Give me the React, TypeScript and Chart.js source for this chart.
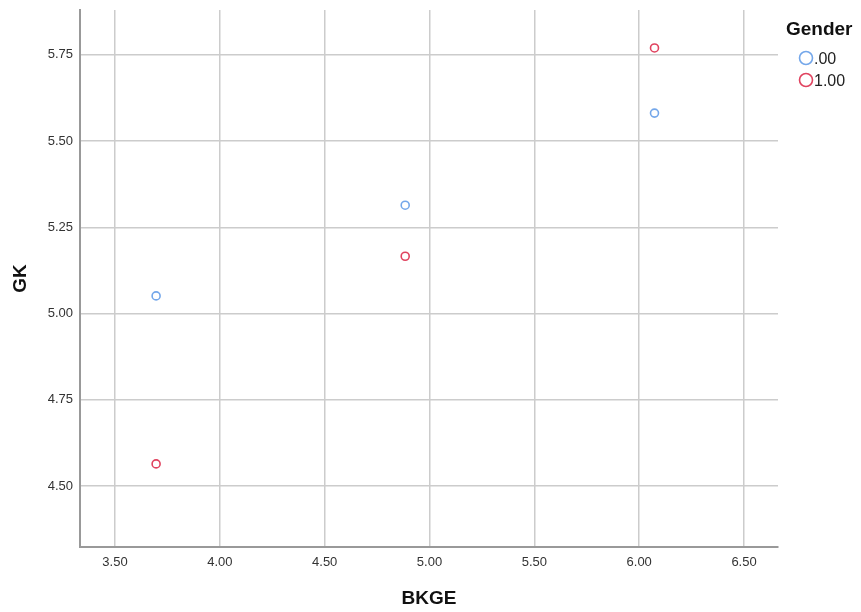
import React, { useEffect, useRef } from "react";
import { Chart, registerables } from "chart.js";

Chart.register(...registerables);

const seriesNames = [".00", "1.00"];
const legendTitle = "Gender";
const xTitle = "BKGE";
const yTitle = "GK";
const bkge00 = [3.696, 4.884, 6.073];
const gk00 = [5.051, 5.314, 5.581];
const bkge10 = [3.696, 4.884, 6.073];
const gk10 = [4.564, 5.166, 5.770];
const colors = ["#74a7ea", "#e0435f"];

const FONT = "'Liberation Sans', Arial, sans-serif";

const legendPlugin = {
  id: "customLegend",
  afterDraw(chart: any) {
    const ctx = chart.ctx;
    ctx.save();
    ctx.fillStyle = "#111";
    ctx.font = `bold 19px ${FONT}`;
    ctx.textBaseline = "middle";
    ctx.textAlign = "left";
    ctx.fillText(legendTitle, 786, 30);
    ctx.font = `16px ${FONT}`;
    seriesNames.forEach((name, i) => {
      const y = 58 + i * 22;
      ctx.beginPath();
      ctx.strokeStyle = colors[i];
      ctx.lineWidth = 1.6;
      ctx.arc(806, y, 6.5, 0, Math.PI * 2);
      ctx.stroke();
      ctx.fillStyle = "#222";
      ctx.fillText(name, 814, y + 2);
    });
    ctx.restore();
  },
};

export default function App() {
  const ref = useRef<HTMLCanvasElement>(null);
  useEffect(() => {
    if (!ref.current) return;
    const chart = new Chart(ref.current, {
      type: "scatter",
      data: {
        datasets: [
          {
            label: seriesNames[0],
            data: bkge00.map((x, i) => ({ x, y: gk00[i] })),
            borderColor: colors[0],
            backgroundColor: "rgba(0,0,0,0)",
            pointRadius: 4,
            pointBorderWidth: 1.6,
          },
          {
            label: seriesNames[1],
            data: bkge10.map((x, i) => ({ x, y: gk10[i] })),
            borderColor: colors[1],
            backgroundColor: "rgba(0,0,0,0)",
            pointRadius: 4,
            pointBorderWidth: 1.6,
          },
        ],
      },
      options: {
        animation: false,
        responsive: false,
        layout: { padding: { top: 10, right: 83, left: 0, bottom: 0 } },
        plugins: { legend: { display: false }, tooltip: { enabled: false } },
        scales: {
          x: {
            type: "linear",
            min: 3.333,
            max: 6.662,
            afterFit: (s: any) => {
              s.height = 65;
              s.paddingLeft = 0;
              s.paddingRight = 0;
            },
            ticks: {
              stepSize: 0.5,
              includeBounds: false,
              padding: 8,
              color: "#333",
              font: { family: FONT, size: 13 },
              callback: (v: any) => Number(v).toFixed(2),
            },
            grid: { color: "#cccccc", lineWidth: 1.5, drawTicks: false },
            border: { color: "#999999", width: 2 },
            title: {
              display: true,
              text: xTitle,
              color: "#111",
              font: { family: FONT, size: 19, weight: "bold" },
              padding: { top: 0, bottom: 2 },
            },
          },
          y: {
            type: "linear",
            min: 4.323,
            max: 5.88,
            afterFit: (s: any) => {
              s.width = 80;
              s.paddingTop = 0;
              s.paddingBottom = 0;
            },
            ticks: {
              stepSize: 0.25,
              includeBounds: false,
              padding: 7,
              color: "#333",
              font: { family: FONT, size: 13 },
              callback: (v: any) => Number(v).toFixed(2),
            },
            grid: { color: "#cccccc", lineWidth: 1.5, drawTicks: false },
            border: { color: "#999999", width: 2 },
            title: {
              display: true,
              text: yTitle,
              color: "#111",
              font: { family: FONT, size: 19, weight: "bold" },
              padding: { top: 9, bottom: 0 },
            },
          },
        },
      },
      plugins: [legendPlugin],
    });
    return () => chart.destroy();
  }, []);
  return (
    <div style={{ position: "fixed", left: 0, top: 0, width: 861, height: 612, background: "#fff" }}>
      <canvas ref={ref} width={861} height={612} style={{ width: 861, height: 612 }} />
    </div>
  );
}
